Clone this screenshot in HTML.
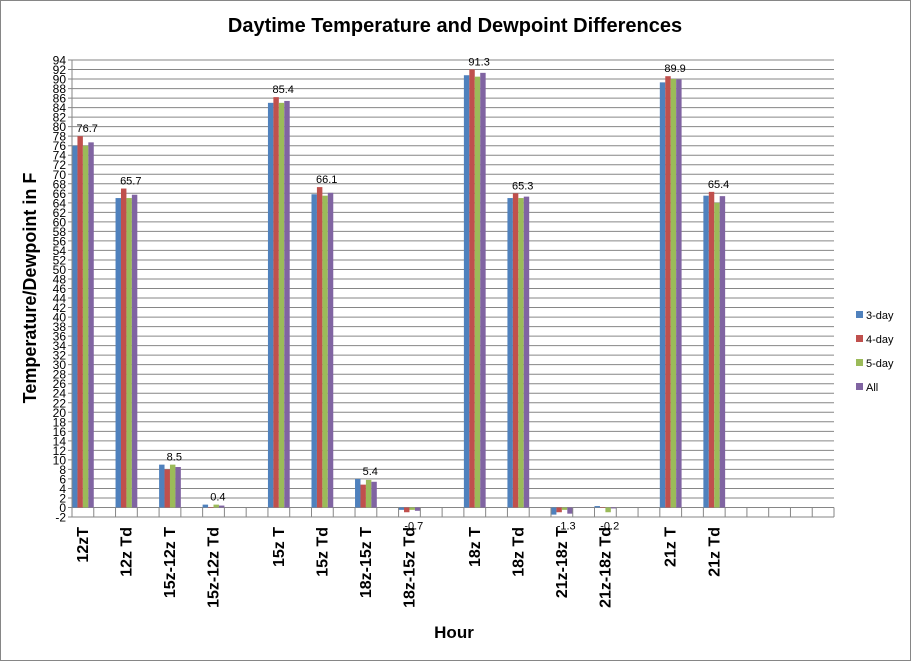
<!DOCTYPE html>
<html><head><meta charset="utf-8"><style>
body{margin:0;background:#fff;font-family:"Liberation Sans",sans-serif}
svg text{font-family:"Liberation Sans",sans-serif}
</style></head><body>
<svg id="c" width="911" height="661" xmlns="http://www.w3.org/2000/svg">
<rect x="0.5" y="0.5" width="910" height="660" fill="#fff" stroke="#868686"/>
<text x="455" y="32" text-anchor="middle" font-size="20" font-weight="bold">Daytime Temperature and Dewpoint Differences</text>
<text transform="translate(36,288) rotate(-90)" text-anchor="middle" font-size="18" font-weight="bold">Temperature/Dewpoint  in F</text>
<text x="454" y="638" text-anchor="middle" font-size="17" font-weight="bold">Hour</text>
<g id="grid"></g><g id="bars"></g><g id="axes"></g>
<g font-size="11">
<rect x="856" y="311" width="7" height="7" fill="#4f81bd"/><text x="866" y="319">3-day</text>
<rect x="856" y="335" width="7" height="7" fill="#c0504d"/><text x="866" y="343">4-day</text>
<rect x="856" y="359" width="7" height="7" fill="#9bbb59"/><text x="866" y="367">5-day</text>
<rect x="856" y="383" width="7" height="7" fill="#8064a2"/><text x="866" y="391">All</text>
</g>
</svg>
<script>
const categories=["12zT","","12z Td","","15z-12z T","","15z-12z Td","","","15z T","","15z Td","","18z-15z T","","18z-15z Td","","","18z T","","18z Td","","21z-18z T","","21z-18z Td","","","21z T","","21z Td","","","","",""];
const s3=[76,null,65,null,9,null,0.6,null,null,85,null,65.8,null,6,null,-0.5,null,null,90.8,null,65,null,-1.5,null,0.3,null,null,89.3,null,65.5,null,null,null,null,null];
const s4=[78,null,67,null,8,null,0,null,null,86.2,null,67.3,null,4.8,null,-1,null,null,92,null,66,null,-1,null,0,null,null,90.6,null,66.3,null,null,null,null,null];
const s5=[76,null,65,null,9,null,0.6,null,null,85,null,65.5,null,5.8,null,-0.5,null,null,90.5,null,65,null,-0.5,null,-1,null,null,90,null,64,null,null,null,null,null];
const sAll=[76.7,null,65.7,null,8.5,null,0.4,null,null,85.4,null,66.1,null,5.4,null,-0.7,null,null,91.3,null,65.3,null,-1.3,null,-0.2,null,null,89.9,null,65.4,null,null,null,null,null];
const yTicks=[-2,0,2,4,6,8,10,12,14,16,18,20,22,24,26,28,30,32,34,36,38,40,42,44,46,48,50,52,54,56,58,60,62,64,66,68,70,72,74,76,78,80,82,84,86,88,90,92,94];
const X0=72,X1=834,Y94=60,Ym2=517;
const y=v=>Ym2-(v+2)*(Ym2-Y94)/96;
const cw=(X1-X0)/categories.length;
const x=i=>X0+i*cw;
const NS="http://www.w3.org/2000/svg";
function mk(t,a,p){const e=document.createElementNS(NS,t);for(const k in a)e.setAttribute(k,a[k]);p.appendChild(e);return e;}
const grid=document.getElementById('grid'),bars=document.getElementById('bars'),axes=document.getElementById('axes');
yTicks.forEach(v=>{
 const l=mk('line',{x1:X0-4,x2:X1,y1:y(v),y2:y(v),stroke:'#868686','stroke-width':1},grid);
 
 
 const t=mk('text',{x:X0-6,y:y(v)+4.5,'text-anchor':'end','font-size':12},axes);
 t.textContent=v;
 
 
});
const ya=mk('line',{x1:X0,x2:X0,y1:Y94,y2:Ym2,stroke:'#868686'},axes);


for(let i=0;i<=categories.length;i++){
 const tk=mk('line',{x1:x(i),x2:x(i),y1:y(0),y2:y(-2),stroke:'#868686'},axes);
 
 
}
const series=[[s3,'#4f81bd'],[s4,'#c0504d'],[s5,'#9bbb59'],[sAll,'#8064a2']];
const bw=cw/4;
categories.forEach((c,i)=>{
 series.forEach(([s,col],k)=>{
  const v=s[i]; if(v==null)return;
  const r=mk('rect',{x:x(i)+k*bw,y:Math.min(y(v),y(0)),width:bw,height:Math.max(Math.abs(y(v)-y(0)),0.5),fill:col},bars);
  
  
 });
 const v=sAll[i];
 if(v!=null){
  const t=mk('text',{x:x(i)+cw*0.7,y:v>=0?Math.min(y(Math.max(v,s3[i],s4[i],s5[i])),y(0))-4:y(0)+22,'text-anchor':'middle','font-size':11},bars);
  t.textContent=v;
  
  
 }
 if(c){
  const t=mk('text',{transform:`translate(${x(i)+cw/2+5},527) rotate(-90)`,'text-anchor':'end','font-size':16,'font-weight':'bold'},axes);
  t.textContent=c;
  
  
 }
});
</script>
</body></html>
